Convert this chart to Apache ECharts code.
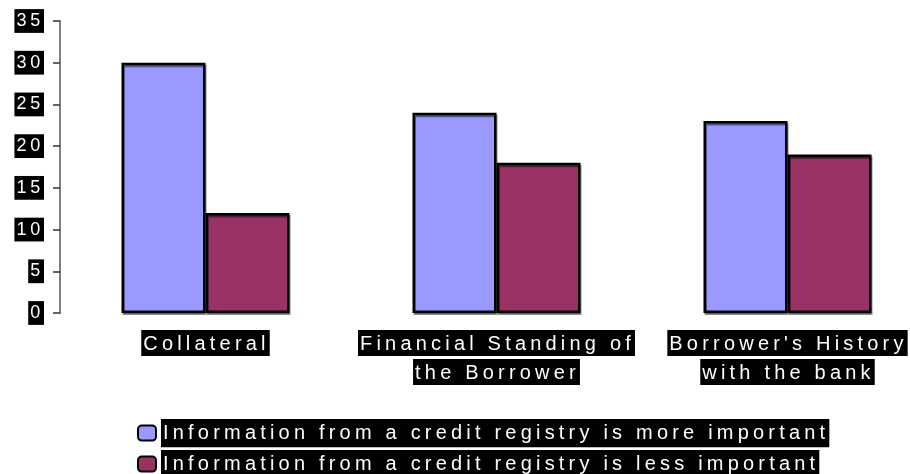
<!DOCTYPE html>
<html>
<head>
<meta charset="utf-8">
<script src="https://cdn.jsdelivr.net/npm/echarts@6/dist/echarts.min.js"></script>
<style>html,body{margin:0;padding:0;background:#fff}#c{width:910px;height:474px}</style>
</head>
<body>
<div id="c"></div>
<script>
const categories = ['Collateral', 'Financial Standing of\nthe Borrower', "Borrower's History\nwith the bank"];
const moreImportant = [30, 24, 23];
const lessImportant = [12, 18, 19];
const seriesNames = ['Information from a credit registry is more important', 'Information from a credit registry is less important'];
const yTicks = { min: 0, max: 35, interval: 5 };

// wide letter spacing like the original (proportional to font size)
(function () {
  const p = CanvasRenderingContext2D.prototype;
  const f = p.fillText, m = p.measureText;
  function setLS(ctx) {
    try {
      const mm = /(\d+(?:\.\d+)?)px/.exec(ctx.font);
      const size = mm ? parseFloat(mm[1]) : 12;
      ctx.letterSpacing = (size * 0.21).toFixed(2) + 'px';
    } catch (e) {}
  }
  p.fillText = function () { setLS(this); return f.apply(this, arguments); };
  p.measureText = function () { setLS(this); return m.apply(this, arguments); };
})();

const FONT = 'Liberation Sans, Arial, sans-serif';
const chart = echarts.init(document.getElementById('c'), null, { renderer: 'canvas' });
const barStyle = (c) => ({
  color: c, borderColor: '#000', borderWidth: 2.5,
  shadowColor: 'rgba(0,0,0,0.45)', shadowOffsetX: 1, shadowOffsetY: 2, shadowBlur: 0
});
const legendText = { color: '#fff', backgroundColor: '#000', fontSize: 20, fontFamily: FONT, padding: [2, 0, 2, 2] };
const legendBase = { left: 137, padding: 0, itemWidth: 18, itemHeight: 15, icon: 'roundRect', itemGap: 6, textStyle: legendText };
chart.setOption({
  animation: false,
  textStyle: { fontFamily: FONT },
  grid: { left: 60, width: 873, top: 21, bottom: 161, containLabel: false, outerBoundsMode: 'none' },
  legend: [
    Object.assign({ top: 419, data: [seriesNames[0]] }, legendBase),
    Object.assign({ top: 450, data: [seriesNames[1]] }, legendBase)
  ],
  xAxis: {
    type: 'category', data: categories,
    axisLine: { show: false }, axisTick: { show: false },
    axisLabel: {
      margin: 19, interval: 0,
      formatter: (v) => v.split('\n').map(s => '{a|' + s + '}').join('\n{g| }\n'),
      rich: {
        a: { color: '#fff', backgroundColor: '#000', fontSize: 20, fontFamily: FONT, lineHeight: 22, padding: [2, 0, 0, 2] },
        g: { fontSize: 1, lineHeight: 7 }
      }
    }
  },
  yAxis: {
    type: 'value', min: yTicks.min, max: yTicks.max, interval: yTicks.interval,
    splitLine: { show: false },
    axisLine: { show: true, lineStyle: { color: '#808080', width: 2 } },
    axisTick: { show: true, length: 7, lineStyle: { color: '#333', width: 1.5 } },
    axisLabel: { color: '#fff', backgroundColor: '#000', fontSize: 18, fontFamily: FONT, margin: 16, padding: [1, 0, 1, 2] }
  },
  series: [
    { name: seriesNames[0], type: 'bar', data: moreImportant, barWidth: 84, barGap: '0%', itemStyle: barStyle('#9999FF') },
    { name: seriesNames[1], type: 'bar', data: lessImportant, barWidth: 84, barGap: '0%', itemStyle: barStyle('#993366') }
  ]
});
</script>
</body>
</html>
